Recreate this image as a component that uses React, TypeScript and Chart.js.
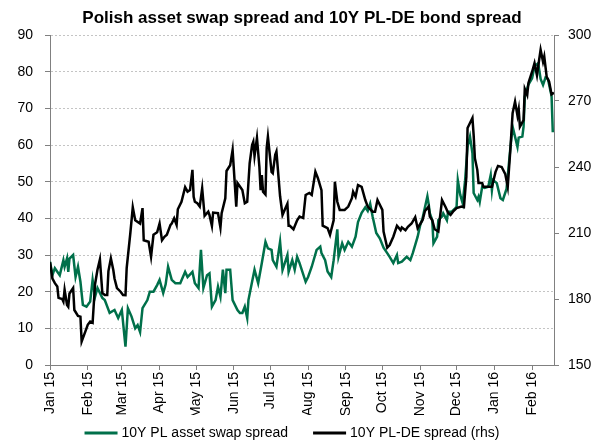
import React, { useEffect, useRef } from 'react';
import { Chart, registerables } from 'chart.js';

Chart.register(...registerables);

const TITLE = 'Polish asset swap spread and 10Y PL-DE bond spread';

// x positions are days since 1 Jan 2015
const monthDays = [0, 31, 59, 90, 120, 151, 181, 212, 243, 273, 304, 334, 365, 396];
const monthLabels = ['Jan 15', 'Feb 15', 'Mar 15', 'Apr 15', 'May 15', 'Jun 15', 'Jul 15', 'Aug 15', 'Sep 15', 'Oct 15', 'Nov 15', 'Dec 15', 'Jan 16', 'Feb 16'];

const swapDays = [
  0, 2, 4, 8, 11, 12, 14, 15, 16, 19,
  21, 23, 25, 27, 30, 33, 35, 37, 39, 43,
  45, 49, 53, 56, 59, 62, 64, 67, 70, 72,
  74, 76, 80, 82, 85, 88, 90, 93, 95, 97,
  100, 103, 107, 111, 113, 117, 119, 122, 124, 126,
  129, 131, 133, 136, 138, 140, 142, 144, 145, 148,
  150, 154, 156, 158, 160, 162, 163, 166, 168, 171,
  174, 177, 179, 182, 183, 186, 189, 191, 195, 196,
  199, 201, 203, 205, 210, 212, 215, 219, 222, 223,
  226, 228, 231, 233, 236, 237, 240, 242, 245, 248,
  251, 253, 256, 259, 261, 263, 265, 268, 271, 274,
  277, 279, 282, 285, 286, 289, 293, 296, 298, 302,
  304, 306, 310, 311, 312, 314, 315, 318, 319, 322,
  323, 326, 327, 330, 333, 334, 335, 337, 339, 341,
  343, 345, 347, 348, 351, 352, 353, 355, 357, 360,
  362, 363, 364, 367, 370, 372, 375, 378, 380, 384,
  385, 388, 389, 390, 393, 396, 398, 401, 403, 405,
  407, 409, 412, 413,
];
const swapValues = [
  28.2, 24.5, 26.4, 24.5, 28.6, 26.8, 29.1, 25.4, 29, 30,
  24, 26.8, 22.7, 16.4, 15.9, 17.3, 23.2, 18.6, 21, 18.3,
  17.7, 14.2, 15, 12.8, 15, 5, 15.5, 13.2, 10, 10.9,
  9, 15.5, 17.7, 20, 20, 21.8, 23.2, 19.6, 22, 26.8,
  23.2, 22.3, 22.3, 25.4, 24, 25.4, 22.3, 21, 31.4, 21,
  24.5, 25, 15.9, 17.7, 21.4, 18.6, 26, 19.6, 26, 26,
  17.7, 15, 14.2, 14.2, 15.9, 12.8, 17.7, 22.7, 26, 22.3,
  27.8, 33.6, 31.8, 31.4, 28.6, 26.8, 33.6, 25.9, 30, 25.4,
  28.6, 26, 29.5, 27.8, 22.7, 24, 26.8, 31.4, 32.3, 30.5,
  28.6, 25.5, 24, 28.6, 37, 29.5, 33.2, 31.4, 33.6, 32.3,
  35, 39, 41.5, 43, 42, 44, 40.5, 36, 34.5, 32,
  30.5, 29.5, 27.8, 30, 27.8, 28.2, 29.5, 28.6, 30.5, 35,
  38, 40, 46, 44, 41.4, 39.5, 33.2, 35, 39.5, 40.5,
  41.4, 39.5, 41.8, 41.8, 42.8, 43.2, 50.4, 46.4, 44.1, 50.4,
  59.5, 62.3, 57.8, 46.9, 45, 45.9, 44.5, 48.6, 48.3, 48.6,
  51.8, 47.7, 50.4, 49.6, 45.5, 45, 48, 58.6, 65, 59.5,
  62, 62.3, 65, 73.2, 76.5, 78.2, 81.5, 82.3, 78, 76.4,
  78.4, 78, 73.4, 63.5,
];

const bondDays = [
  0, 2, 4, 6, 7, 10, 11, 12, 14, 15,
  16, 19, 20, 23, 25, 26, 29, 31, 33, 35,
  37, 39, 41, 43, 45, 47, 48, 50, 52, 53,
  55, 58, 60, 62, 63, 66, 68, 70, 74, 76,
  77, 81, 83, 85, 88, 90, 92, 94, 96, 99,
  100, 102, 104, 105, 108, 111, 113, 115, 117, 118,
  119, 121, 123, 125, 127, 130, 131, 133, 134, 138,
  140, 141, 144, 145, 148, 150, 153, 154, 158, 160,
  162, 164, 166, 167, 168, 170, 172, 173, 174, 175,
  177, 178, 179, 182, 183, 185, 186, 189, 191, 193,
  195, 196, 197, 200, 203, 205, 208, 210, 213, 215,
  218, 220, 223, 224, 228, 230, 233, 234, 236, 238,
  242, 245, 248, 249, 251, 253, 256, 259, 261, 265,
  267, 269, 273, 274, 277, 279, 282, 285, 288, 289,
  292, 294, 297, 300, 302, 306, 308, 311, 312, 314,
  316, 319, 322, 325, 327, 329, 331, 334, 338, 340,
  342, 343, 347, 348, 349, 351, 352, 355, 356, 359,
  362, 363, 366, 368, 371, 374, 376, 378, 380, 382,
  384, 385, 386, 389, 390, 392, 393, 396, 398, 400,
  401, 403, 405, 406, 408, 410, 412, 414,
];
const bondValues = [
  196.7, 189.3, 187.2, 185.7, 180.5, 180, 178.8, 184.2, 177.3, 176.5,
  182.5, 185, 175, 172.3, 172, 160.7, 165.2, 168.3, 169.7, 169.2,
  186.7, 193.3, 198, 182.7, 181.8, 181.8, 192.7, 198.5, 193.2, 189.3,
  185, 183.3, 181.8, 181.7, 194.2, 210, 221.7, 215.8, 214.3, 221.3,
  206.7, 206, 199.2, 209.2, 210.3, 214.3, 206.7, 208.3, 209.2, 213.7,
  214.3, 216.7, 213.7, 220.8, 224.2, 230.8, 228.8, 229.5, 238.7, 226.5,
  224.2, 223.5, 222, 230.3, 217.8, 219.7, 218.2, 213.2, 219.3, 219,
  212.5, 219, 225.8, 238.2, 240.8, 247.7, 222, 232.7, 229.5, 223.5,
  224.2, 241.7, 250, 251.5, 245, 253.2, 240, 229.5, 236.3, 228.8,
  227.5, 248.7, 253.8, 237.8, 237.2, 245.5, 247, 226.7, 218.2, 220.8,
  223.3, 213.3, 213.3, 211.7, 215.8, 217.5, 216.8, 227.3, 228.2, 227.3,
  237.8, 235, 229.5, 213.3, 212.2, 209.2, 215.8, 233.3, 224.2, 220.5,
  220.5, 222, 225.8, 228.8, 226.5, 231.8, 231, 225, 222, 219.7,
  219.7, 225, 220.5, 210.7, 203.3, 204.5, 208.3, 213.3, 211.3, 212.5,
  211.3, 212.8, 214.3, 217.2, 212.2, 215.8, 220, 222, 217.5, 215.8,
  211.7, 210.7, 225, 221.7, 219.2, 218.2, 219.7, 221.3, 222, 221.7,
  235.5, 257.7, 262.3, 254.5, 244, 238.7, 232.7, 232.7, 231, 231,
  231, 231, 237.8, 240.5, 240, 236.7, 231, 246.7, 264.5, 269.7,
  263.3, 266.3, 258.3, 261.3, 275.5, 272.7, 278.2, 283.3, 287.2, 281.7,
  285.7, 293.3, 287.8, 290.2, 281, 278.8, 273, 273.7,
];

const GREEN = '#00704A';
const AXIS = '#808080';
const FONT = "'Liberation Sans', Arial, sans-serif";
const FONT_SIZE = 14;

const titlePlugin = {
  id: 'customTitle',
  afterDraw(chart: any) {
    const { ctx, chartArea } = chart;
    ctx.save();
    ctx.font = `bold 17px ${FONT}`;
    ctx.fillStyle = '#000';
    ctx.textAlign = 'center';
    ctx.textBaseline = 'middle';
    ctx.fillText(TITLE, (chartArea.left + chartArea.right) / 2, 18);
    ctx.restore();
  },
};

// line-sample legend below the axis labels
const legendPlugin = {
  id: 'lineLegend',
  afterDraw(chart: any) {
    const { ctx } = chart;
    const datasets = chart.data.datasets;
    const boxW = 33;
    const boxGap = 4;
    const itemGap = 25;
    ctx.save();
    ctx.font = `${FONT_SIZE}px ${FONT}`;
    const widths = datasets.map((ds: any) => boxW + boxGap + ctx.measureText(ds.label).width);
    const total = widths.reduce((a: number, b: number) => a + b, 0) + itemGap * (datasets.length - 1);
    let x = 292 - total / 2;
    const y = 433;
    datasets.forEach((ds: any, i: number) => {
      ctx.fillStyle = ds.borderColor;
      ctx.fillRect(x, y - 1.5, boxW, 3);
      ctx.fillStyle = '#000';
      ctx.textAlign = 'left';
      ctx.textBaseline = 'middle';
      ctx.fillText(ds.label, x + boxW + boxGap, y);
      x += widths[i] + itemGap;
    });
    ctx.restore();
  },
};

export default function App() {
  const ref = useRef<HTMLCanvasElement>(null);

  useEffect(() => {
    if (!ref.current) return;
    const tickFont = { family: FONT, size: FONT_SIZE };
    const chart = new Chart(ref.current, {
      type: 'line',
      data: {
        datasets: [
          {
            label: '10Y PL asset swap spread',
            data: swapDays.map((d, i) => ({ x: d, y: swapValues[i] })),
            yAxisID: 'y',
            borderColor: GREEN,
            backgroundColor: GREEN,
            borderWidth: 2.5,
            pointRadius: 0,
            tension: 0,
            order: 1,
          },
          {
            label: '10Y PL-DE spread (rhs)',
            data: bondDays.map((d, i) => ({ x: d, y: bondValues[i] })),
            yAxisID: 'y1',
            borderColor: '#000',
            backgroundColor: '#000',
            borderWidth: 2.5,
            pointRadius: 0,
            tension: 0,
            order: 0,
          },
        ],
      },
      options: {
        animation: false,
        responsive: true,
        maintainAspectRatio: false,
        layout: { padding: { top: 35, left: 0, right: 0, bottom: 30 } },
        scales: {
          x: {
            type: 'linear',
            min: 0,
            max: 414,
            afterBuildTicks: (s: any) => {
              s.ticks = monthDays.map((v) => ({ value: v }));
            },
            afterFit: (s: any) => {
              s.height = 50;
            },
            ticks: {
              autoSkip: false,
              minRotation: 90,
              maxRotation: 90,
              padding: 2,
              color: '#000',
              font: tickFont,
              callback: (v: any) => {
                const i = monthDays.indexOf(Number(v));
                return i >= 0 ? monthLabels[i] : '';
              },
            },
            grid: { display: true, drawOnChartArea: false, drawTicks: true, tickLength: 5, tickColor: AXIS },
            border: { color: AXIS, width: 1 },
          },
          y: {
            position: 'left',
            min: 0,
            max: 90,
            afterFit: (s: any) => {
              s.width = 50;
            },
            ticks: { stepSize: 10, padding: 12, color: '#000', font: tickFont },
            grid: { color: '#c4c4c4', lineWidth: 1, tickLength: 5, tickColor: AXIS, tickBorderDash: [] },
            border: { color: AXIS, width: 1, dash: [2, 2] },
          },
          y1: {
            position: 'right',
            min: 150,
            max: 300,
            afterFit: (s: any) => {
              s.width = 39;
            },
            ticks: { stepSize: 30, padding: 9, color: '#000', font: tickFont },
            grid: { drawOnChartArea: false, tickLength: 5, tickColor: AXIS },
            border: { color: AXIS, width: 1 },
          },
        },
        plugins: {
          title: { display: false },
          tooltip: { enabled: false },
          legend: { display: false },
        },
      },
      plugins: [titlePlugin, legendPlugin],
    } as any);
    return () => chart.destroy();
  }, []);

  return (
    <div style={{ position: 'fixed', left: 0, top: 0, width: 593, height: 445, background: '#fff' }}>
      <canvas ref={ref} />
    </div>
  );
}
